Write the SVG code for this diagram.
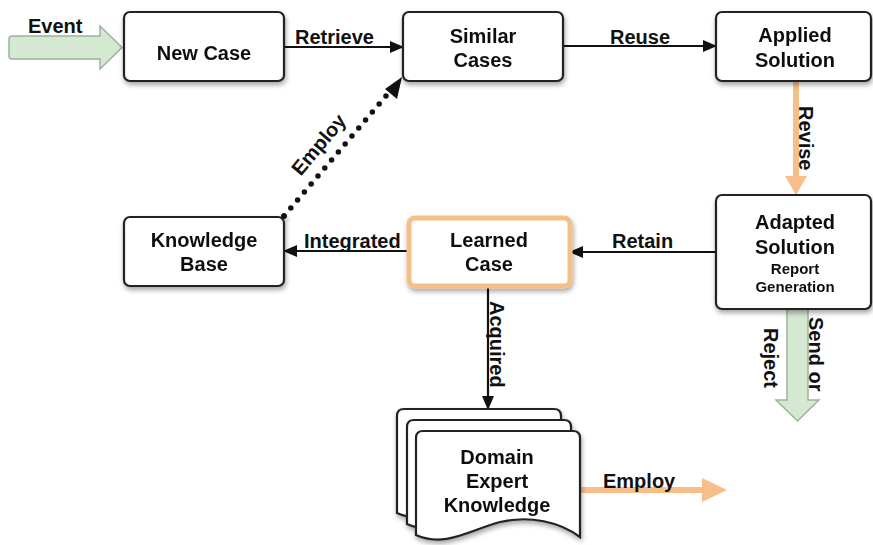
<svg xmlns="http://www.w3.org/2000/svg" width="873" height="545" viewBox="0 0 873 545">
  <defs>
    <filter id="shadow" x="-20%" y="-20%" width="140%" height="150%">
      <feDropShadow dx="1" dy="3" stdDeviation="2.5" flood-color="#000" flood-opacity="0.35"/>
    </filter>
    <marker id="arrow" viewBox="0 0 14 12" refX="13" refY="6" markerWidth="14" markerHeight="12" markerUnits="userSpaceOnUse" orient="auto">
      <path d="M0,0 L14,6 L0,12 Z" fill="#111"/>
    </marker>
    <path id="doc" d="M0,7 Q0,0 7,0 L157,0 Q164,0 164,7 L164,106 C144,91 114,84 84,91 C54,99 29,117 0,104 Z"/>
  </defs>
  <style>
    .box { fill: #fff; stroke: #222; stroke-width: 2.2; }
    .lbl { font-family: "Liberation Sans", Arial, sans-serif; font-weight: bold; font-size: 20px; fill: #111; }
    .mid { text-anchor: middle; }
    .small { font-size: 15px; }
    .edge { fill: none; stroke: #111; stroke-width: 2.2; }
    .orange { stroke: #F6BF8A; stroke-width: 6; fill: none; }
  </style>

  <!-- connectors -->
  <g id="connectors">
    <!-- incoming event -->
    <path d="M12,36 L100,36 L100,26 L122,47.5 L100,69 L100,59 L12,59 Q9,59 9,56 L9,39 Q9,36 12,36 Z" fill="#D4E8D2" stroke="#9DB39B" stroke-width="1.5"/>
    <text class="lbl" x="28" y="33">Event</text>

    <line class="edge" x1="284" y1="47" x2="403" y2="47" marker-end="url(#arrow)"/>
    <text class="lbl" x="295" y="44">Retrieve</text>

    <line class="edge" x1="563" y1="46" x2="716" y2="46" marker-end="url(#arrow)"/>
    <text class="lbl" x="610" y="44">Reuse</text>

    <!-- revise -->
    <line class="orange" x1="796" y1="81" x2="796" y2="178"/>
    <path d="M785,176 L807,176 L796,195 Z" fill="#F6BF8A"/>
    <text class="lbl" transform="translate(799,106) rotate(90)">Revise</text>

    <line class="edge" x1="716" y1="252" x2="570" y2="252" marker-end="url(#arrow)"/>
    <text class="lbl" x="612" y="248">Retain</text>

    <line class="edge" x1="407" y1="251" x2="284" y2="251" marker-end="url(#arrow)"/>
    <text class="lbl" x="304" y="248">Integrated</text>

    <!-- employ (dotted) -->
    <line x1="284" y1="216" x2="391" y2="90" stroke="#111" stroke-width="5.5" stroke-linecap="round" stroke-dasharray="0 10.5"/>
    <path d="M402,77 L397,99 L385,89 Z" fill="#111"/>
    <text class="lbl mid" transform="translate(324,149) rotate(-50)">Employ</text>

    <line class="edge" x1="488" y1="288" x2="488" y2="409" marker-end="url(#arrow)"/>
    <text class="lbl" transform="translate(490,301) rotate(90)">Acquired</text>

    <!-- send or reject -->
    <path d="M787,309 L808,309 L808,400 L819,400 L797.5,421 L776,400 L787,400 Z" fill="#D4E8D2" stroke="#9DB39B" stroke-width="1.5"/>
    <text class="lbl" transform="translate(809,317) rotate(90)">Send or</text>
    <text class="lbl" transform="translate(764,328) rotate(90)">Reject</text>

    <!-- employ (outgoing) -->
    <line class="orange" x1="580" y1="490" x2="704" y2="490"/>
    <path d="M702,478 L727,490 L702,502 Z" fill="#F6BF8A"/>
    <text class="lbl" x="603" y="488">Employ</text>
  </g>

  <g id="new-case" filter="url(#shadow)">
    <rect class="box" x="124" y="12" width="160" height="69" rx="6"/>
    <text class="lbl mid" x="204" y="60">New Case</text>
  </g>

  <g id="similar-cases" filter="url(#shadow)">
    <rect class="box" x="403" y="12" width="160" height="69" rx="6"/>
    <text class="lbl mid" x="483" y="43">Similar</text>
    <text class="lbl mid" x="483" y="67">Cases</text>
  </g>

  <g id="applied-solution" filter="url(#shadow)">
    <rect class="box" x="716" y="12" width="155" height="69" rx="6"/>
    <text class="lbl mid" x="795" y="42">Applied</text>
    <text class="lbl mid" x="795" y="67">Solution</text>
  </g>

  <g id="adapted-solution" filter="url(#shadow)">
    <rect class="box" x="716" y="195" width="155" height="114" rx="6"/>
    <text class="lbl mid" x="795" y="229">Adapted</text>
    <text class="lbl mid" x="795" y="254">Solution</text>
    <text class="lbl mid small" x="795" y="274">Report</text>
    <text class="lbl mid small" x="795" y="292">Generation</text>
  </g>

  <g id="learned-case" filter="url(#shadow)">
    <rect x="409" y="218" width="161" height="68" rx="6" fill="#fff" stroke="#F6BF8A" stroke-width="5"/>
    <text class="lbl mid" x="489" y="247">Learned</text>
    <text class="lbl mid" x="489" y="271">Case</text>
  </g>

  <g id="knowledge-base" filter="url(#shadow)">
    <rect class="box" x="124" y="217" width="160" height="69" rx="6"/>
    <text class="lbl mid" x="204" y="247">Knowledge</text>
    <text class="lbl mid" x="204" y="271">Base</text>
    <circle cx="284" cy="216" r="2.8" fill="#111"/>
  </g>

  <g id="domain-expert-knowledge" filter="url(#shadow)">
    <use href="#doc" x="397" y="409" class="box"/>
    <use href="#doc" x="407" y="420" class="box"/>
    <use href="#doc" x="416" y="431" class="box"/>
    <text class="lbl mid" x="497" y="464">Domain</text>
    <text class="lbl mid" x="497" y="488">Expert</text>
    <text class="lbl mid" x="497" y="512">Knowledge</text>
  </g>
</svg>
